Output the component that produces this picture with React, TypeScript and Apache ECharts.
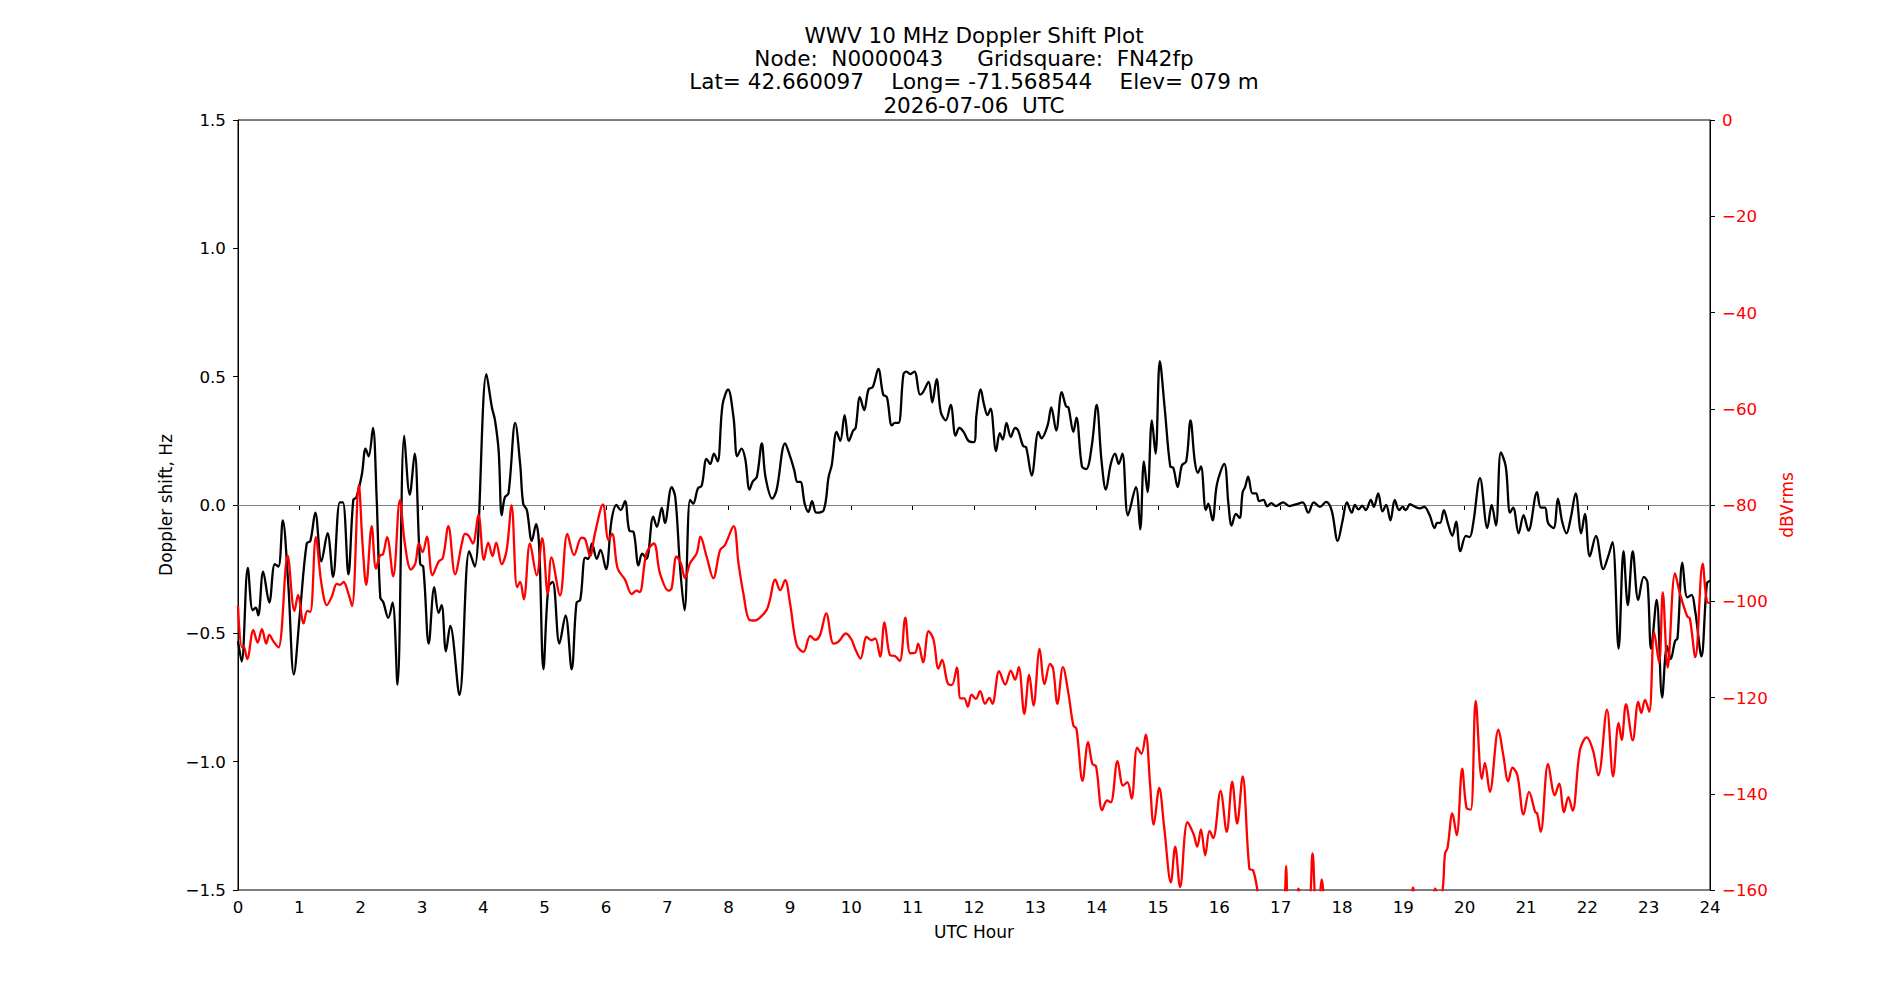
import React, { useEffect, useRef } from "react";
import * as echarts from "echarts";

// ---- Data ----
const titleLines = [
  "WWV 10 MHz Doppler Shift Plot",
  "Node:  N0000043     Gridsquare:  FN42fp",
  "Lat= 42.660097    Long= -71.568544    Elev= 079 m",
  "2026-07-06  UTC",
];

const xTicks = [0, 24, 1]; // min, max, interval (UTC hours)
const leftTicks = [-1.5, 1.5, 0.5];
const rightTicks = [-160, 0, 20];

// Doppler shift (Hz) vs UTC hour
const dopplerHours = [
  0.0, 0.06, 0.16, 0.24, 0.29, 0.33, 0.41, 0.51, 0.6, 0.66, 0.73, 0.82, 0.91, 1.01, 1.12, 1.18, 1.26, 1.36, 1.46, 1.55,
  1.66, 1.71, 1.8, 1.88, 1.93, 2.02, 2.08, 2.13, 2.2, 2.26, 2.32, 2.37, 2.45, 2.52, 2.6, 2.71, 2.8, 2.88, 2.97, 3.02,
  3.11, 3.2, 3.27, 3.32, 3.39, 3.46, 3.61, 3.77, 3.86, 4.05, 4.14, 4.19, 4.25, 4.3, 4.35, 4.41, 4.52, 4.6, 4.65, 4.71,
  4.79, 4.86, 4.91, 4.98, 5.06, 5.13, 5.24, 5.34, 5.44, 5.52, 5.58, 5.66, 5.71, 5.77, 5.85, 5.91, 6.0, 6.09, 6.17, 6.24,
  6.31, 6.38, 6.45, 6.53, 6.59, 6.66, 6.77, 6.83, 6.91, 6.96, 7.07, 7.13, 7.21, 7.28, 7.37, 7.42, 7.5, 7.56, 7.64, 7.7,
  7.76, 7.82, 7.9, 7.99, 8.08, 8.14, 8.21, 8.27, 8.34, 8.39, 8.46, 8.54, 8.6, 8.71, 8.78, 8.92, 9.0, 9.07, 9.12, 9.17,
  9.24, 9.3, 9.36, 9.43, 9.55, 9.63, 9.68, 9.76, 9.82, 9.89, 9.96, 10.03, 10.07, 10.14, 10.21, 10.28, 10.35, 10.44, 10.52, 10.58,
  10.66, 10.71, 10.77, 10.85, 10.9, 10.96, 11.03, 11.12, 11.17, 11.26, 11.32, 11.39, 11.46, 11.54, 11.62, 11.7, 11.76, 11.83, 11.91, 12.0,
  12.04, 12.11, 12.16, 12.22, 12.27, 12.36, 12.42, 12.47, 12.53, 12.6, 12.67, 12.72, 12.8, 12.85, 12.94, 13.05, 13.1, 13.2, 13.26, 13.34,
  13.43, 13.5, 13.54, 13.62, 13.67, 13.76, 13.83, 13.92, 14.0, 14.08, 14.15, 14.23, 14.3, 14.36, 14.42, 14.51, 14.64, 14.71, 14.77, 14.83,
  14.9, 14.96, 15.03, 15.11, 15.2, 15.25, 15.32, 15.39, 15.46, 15.53, 15.6, 15.65, 15.7, 15.78, 15.82, 15.89, 15.96, 16.08, 16.15, 16.2,
  16.27, 16.33, 16.38, 16.42, 16.47, 16.54, 16.6, 16.65, 16.72, 16.78, 16.85, 16.92, 17.04, 17.14, 17.26, 17.36, 17.45, 17.54, 17.64, 17.74,
  17.83, 17.93, 18.01, 18.08, 18.16, 18.21, 18.27, 18.33, 18.39, 18.47, 18.52, 18.59, 18.66, 18.72, 18.79, 18.86, 18.93, 18.99, 19.04, 19.11,
  19.19, 19.27, 19.34, 19.43, 19.51, 19.55, 19.6, 19.66, 19.73, 19.8, 19.86, 19.93, 20.02, 20.08, 20.14, 20.25, 20.37, 20.44, 20.51, 20.59,
  20.67, 20.74, 20.79, 20.88, 20.96, 21.04, 21.18, 21.24, 21.31, 21.36, 21.45, 21.52, 21.59, 21.66, 21.73, 21.81, 21.9, 21.96, 22.04, 22.14,
  22.26, 22.34, 22.41, 22.51, 22.59, 22.66, 22.74, 22.83, 22.92, 22.98, 23.04, 23.13, 23.22, 23.3, 23.36, 23.43, 23.47, 23.55, 23.63, 23.7,
  23.76, 23.78, 23.86, 23.95, 24.0,
];
const dopplerValues = [
  -0.53, -0.61, -0.245, -0.41, -0.4, -0.43, -0.26, -0.38, -0.23, -0.24, -0.06, -0.31, -0.66, -0.42, -0.15, -0.14, -0.03, -0.22, -0.11, -0.28,
  0.01, 0.01, -0.27, 0.02, 0.03, 0.12, 0.22, 0.19, 0.3, 0.03, -0.36, -0.38, -0.44, -0.38, -0.7, 0.27, 0.04, 0.2, -0.23, -0.24,
  -0.54, -0.32, -0.42, -0.39, -0.57, -0.47, -0.74, -0.18, -0.24, 0.51, 0.38, 0.33, 0.21, -0.04, 0.03, 0.045, 0.32, 0.16, 0.005, -0.02,
  -0.14, -0.075, -0.16, -0.64, -0.32, -0.3, -0.54, -0.43, -0.64, -0.38, -0.37, -0.205, -0.21, -0.15, -0.21, -0.175, -0.25, -0.06, 0.0, -0.02,
  0.015, -0.1, -0.105, -0.235, -0.19, -0.21, -0.045, -0.085, -0.01, -0.07, 0.07, 0.03, -0.25, -0.41, 0.02, 0.005, 0.065, 0.075, 0.18, 0.16,
  0.2, 0.17, 0.39, 0.45, 0.34, 0.19, 0.22, 0.18, 0.06, 0.09, 0.11, 0.24, 0.11, 0.025, 0.057, 0.24, 0.19, 0.135, 0.09, 0.09,
  0.005, -0.027, 0.015, -0.03, -0.02, 0.11, 0.155, 0.285, 0.25, 0.35, 0.25, 0.29, 0.3, 0.42, 0.37, 0.45, 0.46, 0.53, 0.43, 0.42,
  0.31, 0.32, 0.32, 0.51, 0.52, 0.51, 0.52, 0.43, 0.44, 0.48, 0.4, 0.49, 0.36, 0.33, 0.39, 0.27, 0.3, 0.285, 0.25, 0.245,
  0.35, 0.45, 0.395, 0.35, 0.375, 0.21, 0.28, 0.255, 0.32, 0.265, 0.3, 0.29, 0.23, 0.225, 0.115, 0.285, 0.26, 0.31, 0.38, 0.29,
  0.44, 0.385, 0.38, 0.285, 0.34, 0.15, 0.14, 0.23, 0.39, 0.17, 0.06, 0.16, 0.2, 0.16, 0.2, -0.04, 0.07, -0.095, 0.17, 0.05,
  0.33, 0.2, 0.56, 0.375, 0.15, 0.145, 0.07, 0.155, 0.17, 0.33, 0.17, 0.125, 0.15, -0.02, 0.005, -0.06, 0.08, 0.16, 0.0, -0.08,
  -0.035, -0.05, 0.05, 0.07, 0.11, 0.045, 0.045, 0.015, 0.02, -0.005, 0.007, -0.004, 0.01, -0.004, 0.003, 0.01, -0.03, 0.01, -0.007, 0.012,
  -0.02, -0.14, -0.06, 0.01, -0.03, 0.0, -0.017, -0.003, -0.02, 0.02, -0.007, 0.045, -0.025, 0.0, -0.06, 0.02, -0.02, -0.007, -0.02, 0.003,
  -0.007, -0.013, -0.007, -0.04, -0.09, -0.07, -0.07, -0.02, -0.075, -0.12, -0.065, -0.18, -0.12, -0.125, -0.07, 0.105, -0.09, 0.0, -0.08, 0.205,
  0.15, -0.03, -0.01, -0.11, -0.04, -0.1, 0.05, -0.01, -0.01, -0.07, -0.09, 0.025, -0.065, -0.11, -0.05, 0.045, -0.11, -0.035, -0.2, -0.12,
  -0.25, -0.2, -0.145, -0.56, -0.18, -0.39, -0.18, -0.37, -0.28, -0.3, -0.56, -0.37, -0.75, -0.55, -0.6, -0.53, -0.52, -0.225, -0.36, -0.35,
  -0.415, -0.45, -0.59, -0.305, -0.295,
];

// Signal level (dBVrms) vs UTC hour
const signalHours = [
  0.0, 0.06, 0.09, 0.15, 0.25, 0.32, 0.39, 0.46, 0.51, 0.58, 0.66, 0.81, 0.92, 0.98, 1.07, 1.13, 1.18, 1.27, 1.36, 1.45,
  1.53, 1.61, 1.66, 1.72, 1.8, 1.86, 1.97, 2.03, 2.09, 2.18, 2.25, 2.32, 2.36, 2.43, 2.53, 2.64, 2.72, 2.82, 2.89, 2.95,
  3.01, 3.08, 3.17, 3.27, 3.34, 3.43, 3.54, 3.65, 3.7, 3.76, 3.83, 3.92, 4.01, 4.08, 4.15, 4.21, 4.3, 4.38, 4.46, 4.55,
  4.6, 4.66, 4.76, 4.87, 4.96, 5.05, 5.11, 5.25, 5.37, 5.48, 5.6, 5.66, 5.74, 5.82, 5.95, 6.04, 6.1, 6.19, 6.31, 6.42,
  6.5, 6.55, 6.66, 6.78, 6.88, 7.02, 7.07, 7.15, 7.22, 7.29, 7.37, 7.48, 7.54, 7.64, 7.75, 7.86, 7.94, 8.08, 8.16, 8.24,
  8.34, 8.43, 8.51, 8.62, 8.67, 8.76, 8.84, 8.92, 9.0, 9.11, 9.22, 9.33, 9.41, 9.49, 9.59, 9.71, 9.79, 9.91, 10.0, 10.06,
  10.15, 10.25, 10.33, 10.39, 10.47, 10.54, 10.63, 10.71, 10.79, 10.88, 10.96, 11.04, 11.09, 11.17, 11.26, 11.34, 11.42, 11.48, 11.57, 11.64,
  11.72, 11.78, 11.84, 11.9, 11.96, 12.03, 12.1, 12.18, 12.25, 12.3, 12.41, 12.51, 12.6, 12.67, 12.73, 12.82, 12.9, 12.97, 13.07, 13.15,
  13.24, 13.29, 13.36, 13.45, 13.54, 13.62, 13.67, 13.77, 13.86, 13.93, 13.99, 14.09, 14.17, 14.23, 14.34, 14.43, 14.5, 14.57, 14.66, 14.73,
  14.8, 14.87, 14.93, 15.02, 15.1, 15.21, 15.28, 15.36, 15.48, 15.58, 15.64, 15.7, 15.77, 15.84, 15.9, 16.02, 16.12, 16.21, 16.29, 16.38,
  16.49, 16.55, 16.62, 16.68, 16.9, 17.05, 17.09, 17.13, 17.25, 17.29, 17.33, 17.45, 17.52, 17.58, 17.63, 17.67, 17.71, 17.8, 18.5, 19.1,
  19.16, 19.2, 19.45, 19.52, 19.58, 19.64, 19.68, 19.72, 19.8, 19.87, 19.96, 20.03, 20.1, 20.18, 20.28, 20.33, 20.41, 20.55, 20.63, 20.71,
  20.78, 20.86, 20.96, 21.05, 21.15, 21.18, 21.24, 21.36, 21.47, 21.54, 21.62, 21.69, 21.76, 21.88, 21.99, 22.09, 22.18, 22.32, 22.42, 22.51,
  22.56, 22.63, 22.74, 22.83, 22.88, 22.94, 23.01, 23.09, 23.17, 23.23, 23.31, 23.43, 23.51, 23.63, 23.67, 23.76, 23.88, 23.95, 24.0,
];
const signalValues = [
  -101, -109.5, -109.4, -112, -106, -108.6, -105.8, -108.8, -107, -108.4, -109.6, -90.5, -102, -98.7, -104.6, -102, -102.2, -86.7, -96.3, -100.8,
  -99, -96.4, -96.6, -96, -98.4, -101, -75.8, -88, -96.6, -84.4, -93.2, -90.4, -90.3, -86.7, -94.8, -79, -88, -93.4, -92.2, -88,
  -89.8, -86.6, -94.6, -91.8, -91, -84.4, -94.4, -88, -86, -86.4, -88, -82, -91.4, -87.8, -90.6, -87.8, -92.3, -89.4, -80.1, -97.1,
  -96, -99.6, -88, -94.6, -86.9, -98.4, -90.9, -98.8, -86, -90.4, -86.8, -87.1, -90.6, -85.9, -79.9, -87.3, -86, -93.2, -95.5, -98.5,
  -97.8, -98.1, -90, -88, -94.2, -97.8, -97.3, -90.7, -92.1, -95.2, -92.1, -90, -86.6, -90.7, -95.2, -89.4, -88.3, -84.4, -92.1, -98.4,
  -103.9, -104, -103.4, -101.8, -99.8, -95.5, -97.7, -95.6, -100.4, -109.1, -110.5, -107.2, -108, -107, -102.5, -108.8, -108.4, -106.7, -107.9, -109.8,
  -111.9, -107.4, -108.1, -107.7, -111.5, -104.4, -111.2, -111.4, -112.4, -103.4, -110.8, -110.7, -108.8, -112.7, -106.2, -108, -114, -112.2, -117, -117.4,
  -113.8, -120.2, -120.2, -121.9, -119.4, -120.3, -118.7, -121.3, -120.1, -121.3, -114.5, -117.3, -114.4, -116.3, -113.7, -123.4, -115.3, -121.7, -109.9, -117.2,
  -113, -114, -121.3, -113.7, -119.2, -125.8, -126.5, -137.3, -129.3, -133.8, -134.3, -143.4, -141.4, -141.8, -133.2, -138.3, -137.6, -141, -130.4, -131.7,
  -127.7, -137.9, -146.4, -138.8, -146.9, -158.4, -151, -159.4, -145.9, -148.4, -151, -147.4, -152.8, -147.7, -149.2, -139.4, -147.9, -137.5, -146.2, -136.4,
  -155.6, -155.9, -160, -166, -167, -163, -155, -163, -162, -159.7, -162, -164, -152.4, -164, -162, -157.8, -162, -168, -168, -162,
  -159.5, -162, -162, -159.7, -162, -160, -152.4, -151.3, -144.1, -148.6, -134.8, -142.9, -143.3, -120.7, -136.9, -133.6, -139.6, -126.7, -132, -137.4,
  -134.6, -136.2, -144.3, -139.6, -143.8, -144, -147.9, -133.8, -140.3, -137.9, -143.8, -140.7, -143.5, -130.9, -128.3, -130.9, -136.2, -122.5, -136.4, -125.3,
  -128.8, -121.4, -128.9, -120.9, -123.2, -120.5, -123, -106.4, -112.8, -98.1, -113.8, -94.2, -98.4, -103.2, -103.5, -111.6, -92.2, -100.1, -100.3,
];

const FONT = "DejaVu Sans";
const MINUS = "\u2212";

export default function App() {
  const ref = useRef<HTMLDivElement>(null);

  useEffect(() => {
    if (!ref.current) return;
    const chart = echarts.init(ref.current, undefined, { renderer: "svg" });

    const dopplerData = dopplerHours.map((h, i) => [h, dopplerValues[i]]);
    const signalData = signalHours.map((h, i) => [h, signalValues[i]]);

    const plotLeft = 238;
    const plotRight = 1710;
    const centerX = (plotLeft + plotRight) / 2;
    const lineY = [35, 58.3, 81.5, 105];

    const option: any = {
      animation: false,
      backgroundColor: "#ffffff",
      textStyle: { fontFamily: FONT },
      grid: {
        left: plotLeft,
        right: 1900 - plotRight,
        top: 120,
        bottom: 110,
        show: true,
        borderColor: "#000",
        borderWidth: 1,
        backgroundColor: "transparent",
      },
      graphic: titleLines.map((t, i) => ({
        type: "text",
        x: centerX,
        y: lineY[i],
        style: {
          text: t,
          fill: "#000",
          font: `21.5px "${FONT}"`,
          textAlign: "center",
          textVerticalAlign: "middle",
        },
      })),
      xAxis: {
        type: "value",
        min: xTicks[0],
        max: xTicks[1],
        interval: xTicks[2],
        name: "UTC Hour",
        nameLocation: "middle",
        nameGap: 33,
        nameTextStyle: { color: "#000", fontSize: 17, fontFamily: FONT },
        axisLine: { show: true, lineStyle: { color: "#000", width: 1 } },
        axisTick: { show: true, inside: false, length: 5, lineStyle: { color: "#000", width: 1 } },
        axisLabel: { color: "#000", fontSize: 16.7, fontFamily: FONT, margin: 8 },
        splitLine: { show: false },
      },
      yAxis: [
        {
          type: "value",
          min: leftTicks[0],
          max: leftTicks[1],
          interval: leftTicks[2],
          position: "left",
          name: "Doppler shift, Hz",
          nameLocation: "middle",
          nameRotate: 90,
          nameGap: 62,
          nameTextStyle: { color: "#000", fontSize: 17, fontFamily: FONT },
          axisLine: { show: true, onZero: false, lineStyle: { color: "#000", width: 1 } },
          axisTick: { show: true, inside: false, length: 5, lineStyle: { color: "#000", width: 1 } },
          axisLabel: {
            color: "#000",
            fontSize: 16.7,
            fontFamily: FONT,
            margin: 12,
            formatter: (v: number) => v.toFixed(1).replace("-", MINUS),
          },
          splitLine: { show: false },
        },
        {
          type: "value",
          min: rightTicks[0],
          max: rightTicks[1],
          interval: rightTicks[2],
          position: "right",
          name: "dBVrms",
          nameLocation: "middle",
          nameRotate: 90,
          nameGap: 62,
          nameTextStyle: { color: "#ff0000", fontSize: 17, fontFamily: FONT },
          axisLine: { show: true, onZero: false, lineStyle: { color: "#000", width: 1 } },
          axisTick: { show: true, inside: false, length: 5, lineStyle: { color: "#000", width: 1 } },
          axisLabel: {
            color: "#ff0000",
            fontSize: 16.7,
            fontFamily: FONT,
            margin: 12,
            formatter: (v: number) => String(v).replace("-", MINUS),
          },
          splitLine: { show: false },
        },
      ],
      series: [
        {
          name: "Doppler",
          type: "line",
          yAxisIndex: 0,
          data: dopplerData,
          showSymbol: false,
          symbol: "none",
          smooth: 0.35,
          clip: true,
          lineStyle: { color: "#000000", width: 2.3 },
          z: 3,
          markLine: {
            silent: true,
            symbol: ["none", "none"],
            label: { show: false },
            lineStyle: { color: "#808080", width: 1.2, type: "solid" },
            data: [{ yAxis: 0 }],
            z: 1,
          },
        },
        {
          name: "Signal",
          type: "line",
          yAxisIndex: 1,
          data: signalData,
          showSymbol: false,
          symbol: "none",
          smooth: 0.35,
          clip: true,
          lineStyle: { color: "#ff0000", width: 2.3 },
          z: 4,
        },
      ],
    };

    chart.setOption(option);
    return () => chart.dispose();
  }, []);

  return (
    <div
      ref={ref}
      style={{ position: "absolute", left: 0, top: 0, width: 1900, height: 1000, background: "#fff" }}
    />
  );
}
